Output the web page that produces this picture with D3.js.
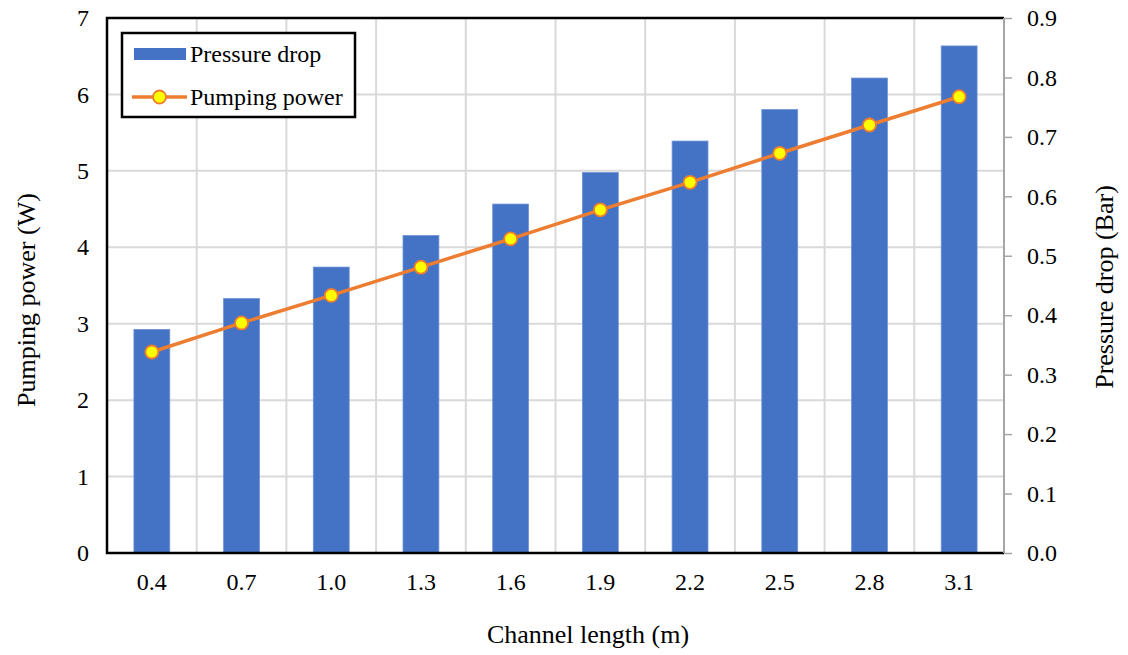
<!DOCTYPE html>
<html>
<head>
<meta charset="utf-8">
<script src="https://cdn.jsdelivr.net/npm/d3@7"></script>
<style>
  html, body { margin: 0; padding: 0; background: #fff; }
  svg { display: block; font-family: "Liberation Serif", "Times New Roman", serif; }
</style>
</head>
<body>
<svg id="chart" width="1128" height="655"></svg>
<script>
// Channel length categories (m)
const lengths = ["0.4", "0.7", "1.0", "1.3", "1.6", "1.9", "2.2", "2.5", "2.8", "3.1"];
// Pressure drop (Bar) – right axis, bars
const pressureDrop = [0.376, 0.428, 0.481, 0.534, 0.587, 0.640, 0.693, 0.746, 0.799, 0.853];
// Pumping power (W) – left axis, line
const pumpingPower = [2.63, 3.01, 3.37, 3.74, 4.11, 4.49, 4.85, 5.23, 5.60, 5.97];
// Tick values
const leftTicks = [0, 1, 2, 3, 4, 5, 6, 7];
const rightTicks = [0, 0.1, 0.2, 0.3, 0.4, 0.5, 0.6, 0.7, 0.8, 0.9];

const svg = d3.select("#chart");
const m = { left: 107, right: 1004, top: 18, bottom: 553 };
const tickFont = "24px";
const titleFont = "26px";
const legendFont = "24px";

const x = d3.scaleBand().domain(lengths).range([m.left, m.right]).paddingInner(0).paddingOuter(0);
const yL = d3.scaleLinear().domain([0, 7]).range([m.bottom, m.top]);
const yR = d3.scaleLinear().domain([0, 0.9]).range([m.bottom, m.top]);

const gridColor = "#d9d9d9";
const barColor = "#4472c4";
const lineColor = "#ed7d31";

// Horizontal gridlines (left axis ticks)
svg.append("g").selectAll("line").data(leftTicks.slice(1)).join("line")
  .attr("x1", m.left).attr("x2", m.right)
  .attr("y1", d => yL(d)).attr("y2", d => yL(d))
  .attr("stroke", gridColor).attr("stroke-width", 2);

// Vertical gridlines at category boundaries
svg.append("g").selectAll("line").data(lengths.slice(1)).join("line")
  .attr("x1", d => x(d)).attr("x2", d => x(d))
  .attr("y1", m.top).attr("y2", m.bottom)
  .attr("stroke", gridColor).attr("stroke-width", 2);

// Bars: pressure drop
const barW = x.bandwidth() * 0.4;
svg.append("g").selectAll("rect").data(lengths).join("rect")
  .attr("x", d => x(d) + (x.bandwidth() - barW) / 2)
  .attr("width", barW)
  .attr("y", (d, i) => yR(pressureDrop[i]))
  .attr("height", (d, i) => m.bottom - yR(pressureDrop[i]))
  .attr("fill", barColor)
  .attr("stroke", "#6d93d6").attr("stroke-width", 0.8);

// Plot frame (left, top, bottom black)
svg.append("path")
  .attr("d", `M${m.right},${m.top}H${m.left}V${m.bottom}H${m.right}`)
  .attr("fill", "none").attr("stroke", "#000").attr("stroke-width", 2.5);

// Right axis (gray with outward ticks)
const rightAxis = d3.axisRight(yR).tickValues(rightTicks).tickFormat(d3.format(".1f")).tickSize(8).tickPadding(15);
const gR = svg.append("g").attr("transform", `translate(${m.right},0)`).call(rightAxis);
gR.select(".domain").attr("stroke", "#a6a6a6").attr("stroke-width", 2).attr("d", `M0,${m.top}V${m.bottom}`);
gR.selectAll(".tick line").attr("stroke", "#a6a6a6").attr("stroke-width", 1.5);
gR.selectAll(".tick text").attr("fill", "#000").style("font-size", tickFont).style("font-family", "Liberation Serif, serif");

// Left axis labels
const leftAxis = d3.axisLeft(yL).tickValues(leftTicks).tickFormat(d3.format("d")).tickSize(0).tickPadding(18);
const gL = svg.append("g").attr("transform", `translate(${m.left},0)`).call(leftAxis);
gL.select(".domain").remove();
gL.selectAll(".tick text").attr("fill", "#000").style("font-size", tickFont).style("font-family", "Liberation Serif, serif");

// Bottom axis labels
const bottomAxis = d3.axisBottom(x).tickSize(0).tickPadding(20);
const gB = svg.append("g").attr("transform", `translate(0,${m.bottom})`).call(bottomAxis);
gB.select(".domain").remove();
gB.selectAll(".tick text").attr("fill", "#000").style("font-size", tickFont).style("font-family", "Liberation Serif, serif");

// Pumping power line
const cx = d => x(d) + x.bandwidth() / 2;
const line = d3.line().x((d, i) => cx(lengths[i])).y(d => yL(d));
svg.append("path").datum(pumpingPower)
  .attr("d", line).attr("fill", "none")
  .attr("stroke", lineColor).attr("stroke-width", 3.5);
svg.append("g").selectAll("circle").data(pumpingPower).join("circle")
  .attr("cx", (d, i) => cx(lengths[i])).attr("cy", d => yL(d)).attr("r", 6.5)
  .attr("fill", "#ffff00").attr("stroke", lineColor).attr("stroke-width", 1.8);

// Axis titles
svg.append("text").attr("x", 588).attr("y", 643)
  .attr("text-anchor", "middle").style("font-size", titleFont).text("Channel length (m)");
svg.append("text").attr("transform", `translate(35,300) rotate(-90)`)
  .attr("text-anchor", "middle").style("font-size", titleFont).text("Pumping power (W)");
svg.append("text").attr("transform", `translate(1113,287) rotate(-90)`)
  .attr("text-anchor", "middle").style("font-size", titleFont).text("Pressure drop (Bar)");

// Legend
const lg = svg.append("g");
lg.append("rect").attr("x", 122).attr("y", 33).attr("width", 233).attr("height", 84)
  .attr("fill", "#fff").attr("stroke", "#000").attr("stroke-width", 2.5);
lg.append("rect").attr("x", 134).attr("y", 48).attr("width", 52).attr("height", 12).attr("fill", barColor);
lg.append("text").attr("x", 190).attr("y", 62).style("font-size", legendFont).text("Pressure drop");
lg.append("line").attr("x1", 132).attr("x2", 187).attr("y1", 97).attr("y2", 97)
  .attr("stroke", lineColor).attr("stroke-width", 3.5);
lg.append("circle").attr("cx", 159.5).attr("cy", 97).attr("r", 6.5)
  .attr("fill", "#ffff00").attr("stroke", lineColor).attr("stroke-width", 1.8);
lg.append("text").attr("x", 190).attr("y", 105).style("font-size", legendFont).text("Pumping power");
</script>
</body>
</html>
